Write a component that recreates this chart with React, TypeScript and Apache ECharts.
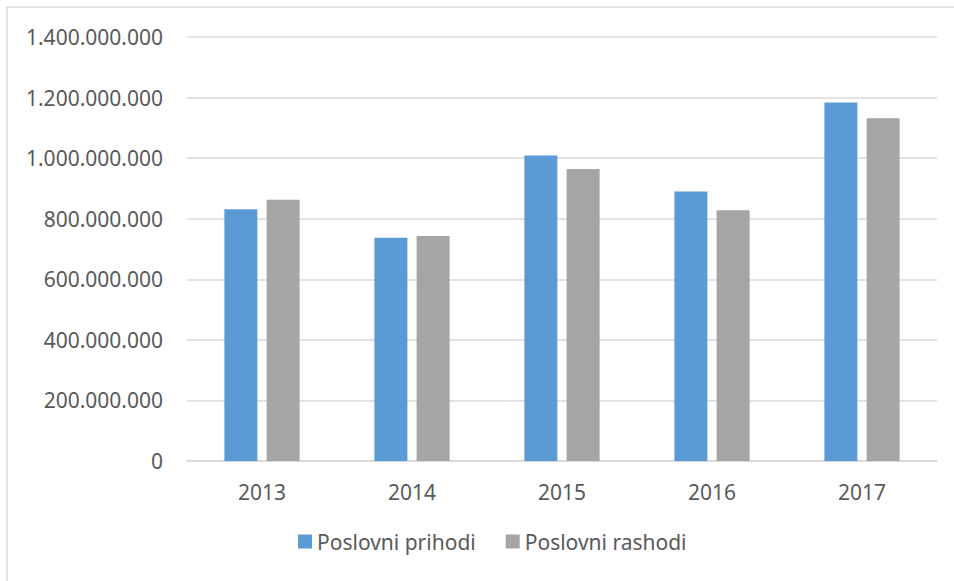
import React, { useEffect, useRef } from "react";
import * as echarts from "echarts";

const categories = ["2013", "2014", "2015", "2016", "2017"];
const prihodi = [831000000, 737000000, 1009000000, 890000000, 1184000000];
const rashodi = [863000000, 743000000, 964000000, 828000000, 1132000000];
const seriesNames = ["Poslovni prihodi", "Poslovni rashodi"];

const fmt = (v: number) => String(Math.round(v)).replace(/\B(?=(\d{3})+(?!\d))/g, ".");

export default function App() {
  const ref = useRef<HTMLDivElement>(null);
  useEffect(() => {
    if (!ref.current) return;
    const chart = echarts.init(ref.current, undefined, { renderer: "svg" });
    const font = "Noto Sans";
    chart.setOption({
      animation: false,
      backgroundColor: "#ffffff",
      textStyle: { fontFamily: font },
      graphic: [
        {
          type: "rect",
          shape: { x: 7, y: 7, width: 1000, height: 700 },
          style: { fill: "none", stroke: "#d9d9d9", lineWidth: 1.5 },
          silent: true,
          z: -10,
        },
      ],
      grid: { left: 187, right: 17, top: 37, bottom: 120, containLabel: false },
      legend: {
        data: seriesNames,
        top: 531,
        left: 298,
        padding: 0,
        icon: "rect",
        itemWidth: 14,
        itemHeight: 14,
        itemGap: 30,
        textStyle: { color: "#595959", fontSize: 21, fontFamily: font },
      },
      xAxis: {
        type: "category",
        data: categories,
        axisLine: { lineStyle: { color: "#d9d9d9", width: 1.5 } },
        axisTick: { show: false },
        axisLabel: { color: "#595959", fontSize: 21, margin: 20, fontFamily: font },
      },
      yAxis: {
        type: "value",
        min: 0,
        max: 1400000000,
        interval: 200000000,
        axisLine: { show: false },
        axisTick: { show: false },
        splitLine: { lineStyle: { color: "#d9d9d9", width: 1.5 } },
        axisLabel: {
          color: "#595959",
          fontSize: 21,
          margin: 24,
          fontFamily: font,
          formatter: (v: number) => fmt(v),
        },
      },
      series: [
        {
          name: seriesNames[0],
          type: "bar",
          data: prihodi,
          barWidth: 33,
          barGap: "28%",
          itemStyle: { color: "#5B9BD5" },
        },
        {
          name: seriesNames[1],
          type: "bar",
          data: rashodi,
          barWidth: 33,
          barGap: "28%",
          itemStyle: { color: "#A5A5A5" },
        },
      ],
    });
    return () => chart.dispose();
  }, []);
  return (
    <div
      ref={ref}
      style={{ position: "fixed", left: 0, top: 0, width: 954, height: 581 }}
    />
  );
}
